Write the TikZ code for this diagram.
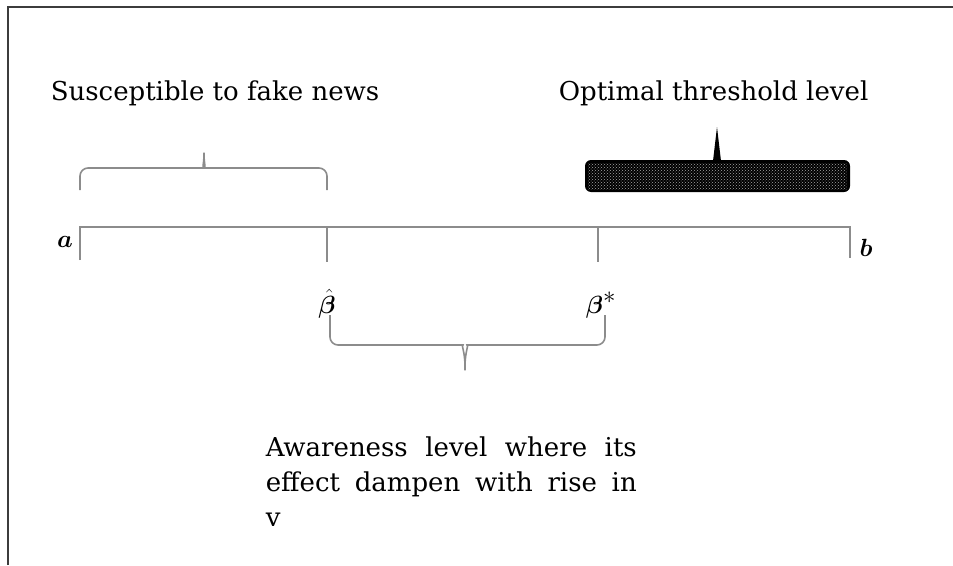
\documentclass[tikz,border=0pt]{standalone}
\usepackage{bm}
\usepackage{fontspec}
\setmainfont{DejaVu Serif}
\usetikzlibrary{positioning, patterns, calc}
\definecolor{cline}{HTML}{8C8C8C}
\definecolor{cframe}{HTML}{3C3C3C}
\tikzset{
  every picture/.style={line width=1.6pt},
  caption/.style={font=\fontsize{26}{35}\selectfont, inner sep=0pt},
  pointlabel/.style={font=\fontsize{34}{36}\selectfont, inner sep=0pt},
  axis/.style={draw=cline, line width=1.6pt},
  curly/.style={draw=cline, line width=1.6pt, rounded corners=8pt},
}

\begin{document}
\begin{tikzpicture}[x=1pt, y=-1pt]
  \useasboundingbox (0,0) rectangle (953,565);
  % ---------- frame
  \draw[cframe, line width=1.2pt] (8,565) -- (8,7) -- (953,7);
  % ---------- interval
  \coordinate (a) at (80,227);
  \coordinate (bhat) at (327,227);
  \coordinate (bstar) at (598,227);
  \coordinate (b) at (850,227);
  \draw[axis] ($(a)+(0,33)$) -- (a) -- (b) -- ($(b)+(0,31)$);
  \foreach \p in {bhat, bstar} \draw[axis] (\p) -- ($(\p)+(0,35)$);
  \node[pointlabel, anchor=base] (la) at (65,247) {$\bm{a}$};
  \node[pointlabel, anchor=base] (lb) at (866,256) {$\bm{b}$};
  \node[pointlabel, anchor=base] (lbhat) at (327,313) {$\hat{\bm{\beta}}$};
  \node[pointlabel, anchor=base west] (lbstar) at (585,313) {$\bm{\beta}^{*}$};
  % ---------- upper braces
  \draw[curly] (80,190) |- (196,168) .. controls (202,168) and (204,162) .. (204,148)
    .. controls (204,162) and (206,168) .. (212,168) -| (327,190);
  \fill[black, rounded corners=6pt] (585,192) -- (585,160) -- (850,160) -- (850,192) -- cycle;
  \fill[pattern=crosshatch dots, pattern color=white!65!black] (588,163) rectangle (847,189);
  \fill[black] (713,161) -- (717,127) -- (721,161) -- cycle;
  \node[caption, anchor=base west] (fake) at (50,100) {Susceptible to fake news};
  \node[caption, anchor=base west] (optimal) at (558,100) {Optimal threshold level};
  % ---------- lower brace
  \draw[curly] (330,315) |- (455,345) .. controls (461,345) and (465,351) .. (465,375)
    .. controls (465,351) and (469,345) .. (475,345) -| (605,315);
  \node[caption, anchor=north west, text width=371pt, align=justify] (aware) at (265,436)
    {Awareness level where its\linebreak effect dampen with rise in\linebreak v};
\end{tikzpicture}
\end{document}
